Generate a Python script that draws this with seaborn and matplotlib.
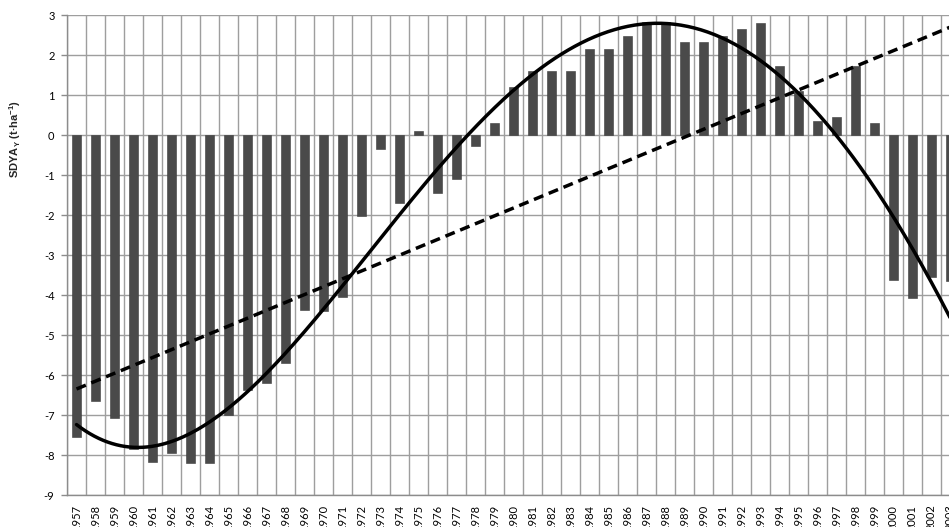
import numpy as np
import pandas as pd
import matplotlib
matplotlib.use("Agg")
import matplotlib.pyplot as plt
import seaborn as sns

years = list(range(1957, 2004))
sdya = [-7.55, -6.65, -7.08, -7.85, -8.17, -7.96, -8.21, -8.21, -7.00, -6.38,
        -6.19, -5.69, -4.38, -4.39, -4.04, -2.02, -0.36, -1.71, 0.10, -1.44,
        -1.10, -0.27, 0.31, 1.19, 1.60, 1.60, 1.60, 2.14, 2.14, 2.47,
        2.82, 2.82, 2.32, 2.32, 2.47, 2.64, 2.79, 1.72, 1.10, 0.36,
        0.46, 1.72, 0.29, -3.63, -4.08, -3.56, -3.65]
y_ticks = list(range(-9, 4))

# trend lines (value at each year)
linear_trend_years = [1957, 2003]
linear_trend_vals = [-6.35, 2.70]
poly_trend_vals = [-7.23, -7.56, -7.76, -7.82, -7.75, -7.62, -7.41, -7.13, -6.84, -6.49,
                   -6.04, -5.53, -4.95, -4.33, -3.70, -3.10, -2.50, -1.98, -1.41, -0.85,
                   -0.35, 0.15, 0.60, 1.06, 1.56, 1.92, 2.23, 2.43, 2.58, 2.69,
                   2.74, 2.75, 2.69, 2.60, 2.43, 2.20, 1.92, 1.52, 1.08, 0.52,
                   -0.06, -0.67, -1.32, -2.04, -2.85, -3.67, -4.59]

sns.set_theme(style="white")
plt.rcParams['font.family'] = ['Lato', 'DejaVu Sans']
plt.rcParams['mathtext.fontset'] = 'custom'
plt.rcParams['mathtext.bf'] = 'Liberation Sans:bold'
plt.rcParams['mathtext.rm'] = 'Liberation Sans'

df = pd.DataFrame({"year": [str(y) for y in years], "sdya": sdya})

fig = plt.figure(figsize=(9.49, 5.27), dpi=100)
ax_w_px = 19.0 * len(years)          # plot area runs past the right edge
ax = fig.add_axes([67/949, 1 - 495/527, ax_w_px/949, 480/527])

sns.barplot(data=df, x="year", y="sdya", color="#4a4a4a", saturation=1,
            width=0.45, ax=ax, zorder=3, edgecolor="#3a3a3a", linewidth=0.4)

idx = np.arange(len(years))
xs = np.linspace(0, len(years) - 0.5, 400)
lin_i = np.array(linear_trend_years) - years[0]
lin = np.polyval(np.polyfit(lin_i, linear_trend_vals, 1), xs)
cub = np.polyval(np.polyfit(idx, poly_trend_vals, 6), xs)
ax.plot(xs, lin, color="black", lw=2.5, ls=(0, (2.9, 1.7)),
        dash_capstyle="butt", zorder=5)
ax.plot(xs, cub, color="black", lw=2.5, zorder=5)

ax.set_yticks(y_ticks)
ax.set_yticklabels([str(t) for t in y_ticks])
ax.set_xticks(idx, minor=False)
ax.set_xticklabels([str(y) for y in years], rotation=90)
ax.set_xticks(np.arange(-0.5, len(years), 1), minor=True)
ax.set_xlim(-0.5, len(years) - 0.5)
ax.set_ylim(-9, 3)

ax.grid(False)
ax.yaxis.grid(True, color="#9e9e9e", lw=1.0, zorder=0)
ax.xaxis.grid(True, which="minor", color="#9e9e9e", lw=1.0, zorder=0)
ax.set_axisbelow(True)

for s in ["top", "right"]:
    ax.spines[s].set_visible(False)
for s in ["left", "bottom"]:
    ax.spines[s].set_color("#8c8c8c")
    ax.spines[s].set_linewidth(1.0)

ax.tick_params(axis="y", which="major", left=True, length=4, width=1,
               color="#8c8c8c", labelsize=8, pad=5, labelcolor="black")
ax.tick_params(axis="x", which="both", bottom=False, length=0,
               labelsize=8, pad=7, labelcolor="black")

ax.set_xlabel("")
ax.set_ylabel(r"SDYA$_\mathbf{Y}$ (t·ha$^\mathbf{-1}$)", fontsize=8,
              fontweight="bold", family=["Liberation Sans", "DejaVu Sans"])
ax.yaxis.set_label_coords(-44/ax_w_px, 0.742)

fig.savefig("out.png", dpi=100)
